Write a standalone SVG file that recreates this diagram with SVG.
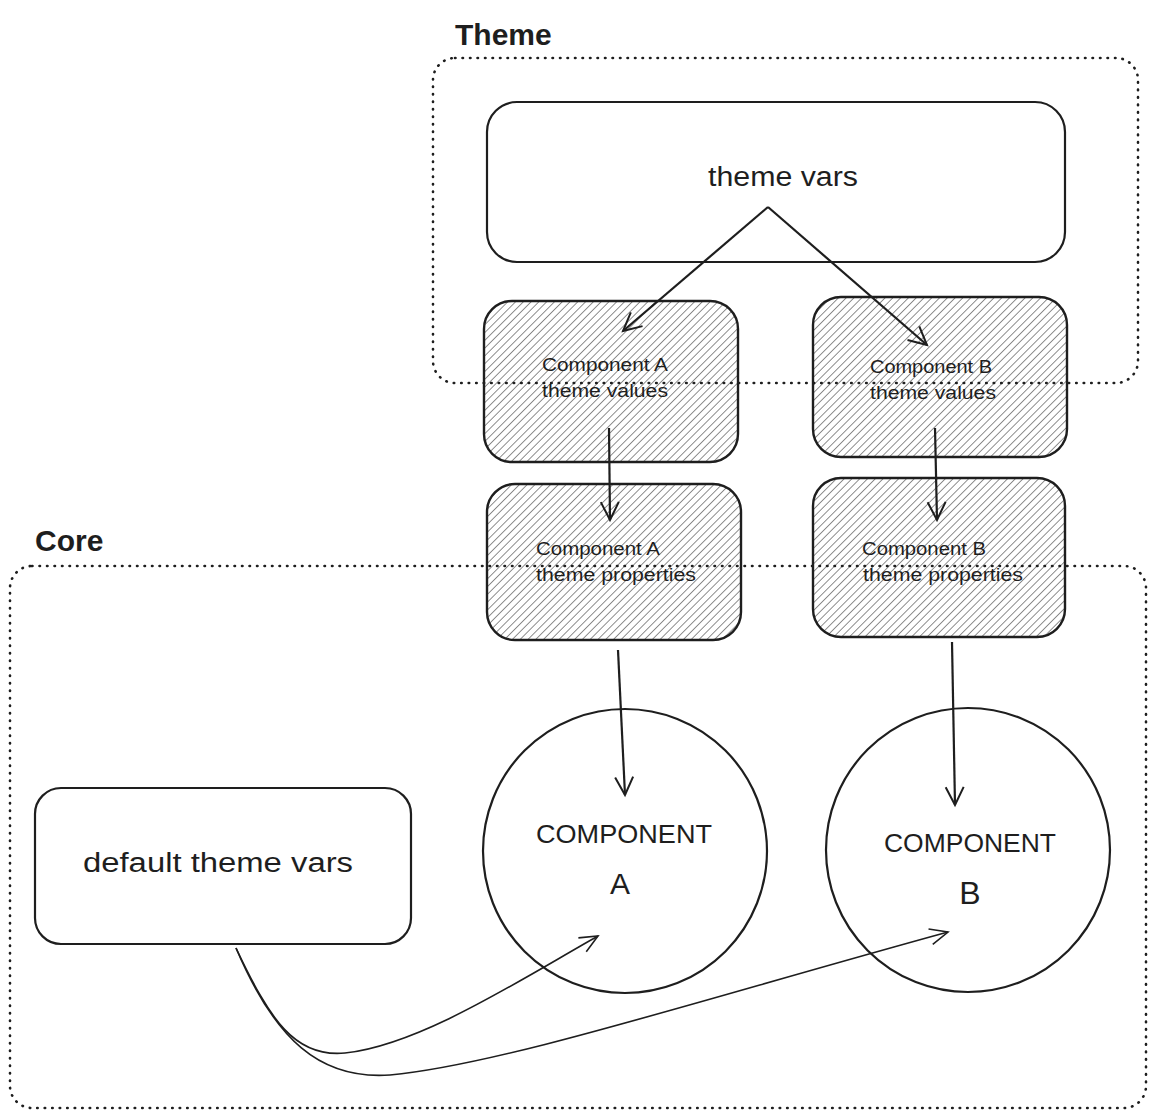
<svg xmlns="http://www.w3.org/2000/svg" width="1156" height="1118" viewBox="0 0 1156 1118">
<style>
.frame{fill:none;stroke:#1e1e1e;stroke-width:2.6;stroke-dasharray:0.5 7;stroke-linecap:round}
.box{fill:#fff;stroke:#1e1e1e;stroke-width:2.2}
.hbox{fill:url(#hatch);stroke:#1e1e1e;stroke-width:2.4}
.lbl{font-family:"Liberation Sans",Arial,sans-serif;fill:#1e1e1e;text-anchor:middle}
.title{font-family:"Liberation Sans",Arial,sans-serif;fill:#1e1e1e;font-size:30px;font-weight:bold}
.edge{fill:none;stroke:#1e1e1e;stroke-width:2.2}
.thin{fill:none;stroke:#1e1e1e;stroke-width:1.6}
</style>
<defs>
<pattern id="hatch" patternUnits="userSpaceOnUse" width="5.5" height="5.5" patternTransform="rotate(45)">
<rect width="5.5" height="5.5" fill="#fff"/>
<line x1="0" y1="0" x2="0" y2="5.5" stroke="#444" stroke-width="1.2"/>
</pattern>
<marker id="arr" markerWidth="22" markerHeight="22" refX="19" refY="11" orient="auto" markerUnits="userSpaceOnUse">
<path d="M1,2 L19,11 L1,20" fill="none" stroke="#1e1e1e" stroke-width="2"/>
</marker>
<marker id="arr2" markerWidth="22" markerHeight="22" refX="19" refY="11" orient="auto" markerUnits="userSpaceOnUse">
<path d="M1,3 L19,11 L1,19" fill="none" stroke="#1e1e1e" stroke-width="1.6"/>
</marker>
</defs>

<g id="theme-vars">
<rect class="box" x="487" y="102" width="578" height="160" rx="30"/>
<text class="lbl" x="783" y="186" font-size="27" textLength="150" lengthAdjust="spacingAndGlyphs">theme vars</text>
</g>

<g id="comp-a-values">
<rect class="hbox" x="484" y="301" width="254" height="161" rx="28"/>
<text class="lbl" x="605" y="371" font-size="18" textLength="126" lengthAdjust="spacingAndGlyphs">Component A</text>
<text class="lbl" x="605" y="397" font-size="18" textLength="126" lengthAdjust="spacingAndGlyphs">theme values</text>
</g>
<g id="comp-b-values">
<rect class="hbox" x="813" y="297" width="254" height="160" rx="28"/>
<text class="lbl" x="931" y="373" font-size="18" textLength="122" lengthAdjust="spacingAndGlyphs">Component B</text>
<text class="lbl" x="933" y="399" font-size="18" textLength="126" lengthAdjust="spacingAndGlyphs">theme values</text>
</g>
<g id="comp-a-props">
<rect class="hbox" x="487" y="484" width="254" height="156" rx="28"/>
<text class="lbl" x="598" y="555" font-size="18" textLength="124" lengthAdjust="spacingAndGlyphs">Component A</text>
<text class="lbl" x="616" y="581" font-size="18" textLength="160" lengthAdjust="spacingAndGlyphs">theme properties</text>
</g>
<g id="comp-b-props">
<rect class="hbox" x="813" y="478" width="252" height="159" rx="28"/>
<text class="lbl" x="924" y="555" font-size="18" textLength="124" lengthAdjust="spacingAndGlyphs">Component B</text>
<text class="lbl" x="943" y="581" font-size="18" textLength="160" lengthAdjust="spacingAndGlyphs">theme properties</text>
</g>

<g id="theme-frame">
<rect class="frame" x="433" y="58" width="705" height="325" rx="22"/>
<text class="title" x="455" y="45">Theme</text>
</g>
<g id="core-frame">
<rect class="frame" x="10" y="566" width="1136" height="542" rx="22"/>
<text class="title" x="35" y="551">Core</text>
</g>

<g id="component-a">
<circle class="box" cx="625" cy="851" r="142"/>
<text class="lbl" x="624" y="843" font-size="25" textLength="176" lengthAdjust="spacingAndGlyphs">COMPONENT</text>
<text class="lbl" x="620" y="894" font-size="30">A</text>
</g>
<g id="component-b">
<circle class="box" cx="968" cy="850" r="142"/>
<text class="lbl" x="970" y="852" font-size="25" textLength="172" lengthAdjust="spacingAndGlyphs">COMPONENT</text>
<text class="lbl" x="970" y="904" font-size="32">B</text>
</g>

<g id="default-theme-vars">
<rect class="box" x="35" y="788" width="376" height="156" rx="26"/>
<text class="lbl" x="218" y="872" font-size="27" textLength="270" lengthAdjust="spacingAndGlyphs">default theme vars</text>
</g>

<g id="connectors">
<path class="edge" d="M768,207 L623,331" marker-end="url(#arr)"/>
<path class="edge" d="M768,207 L927,345" marker-end="url(#arr)"/>
<path class="edge" d="M609,428 L610,520" marker-end="url(#arr)"/>
<path class="edge" d="M935,428 L937,520" marker-end="url(#arr)"/>
<path class="edge" d="M618,650 L625,795" marker-end="url(#arr)"/>
<path class="edge" d="M952,642 L955,805" marker-end="url(#arr)"/>
<path class="thin" d="M236,948 C270,1020 295,1058 345,1053 C420,1045 520,980 598,936" marker-end="url(#arr2)"/>
<path class="thin" d="M236,948 C275,1040 320,1080 390,1075 C500,1065 700,1000 948,932" marker-end="url(#arr2)"/>
</g>
</svg>
